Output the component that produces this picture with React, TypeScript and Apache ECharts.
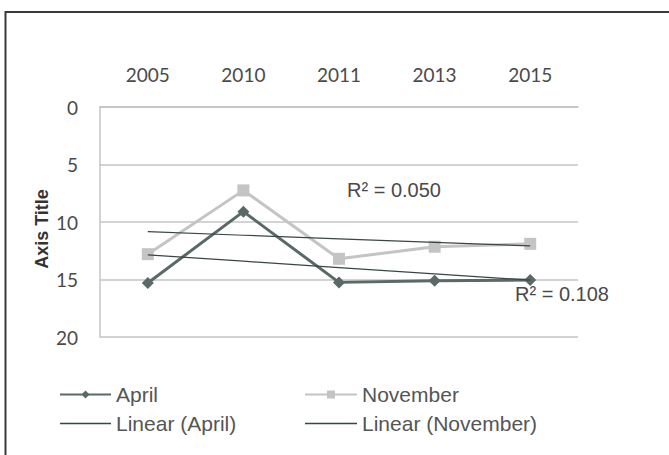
import React, { useEffect, useRef } from "react";
import * as echarts from "echarts";

const categories = ["2005", "2010", "2011", "2013", "2015"];
const aprilValues = [15.3, 9.1, 15.25, 15.1, 15.05];
const novemberValues = [12.8, 7.25, 13.2, 12.15, 11.9];
const yTicks = [0, 5, 10, 15, 20];
const r2Labels = ["R² = 0.050", "R² = 0.108"];
const yAxisTitle = "Axis Title";

function linearTrend(vals: number[]): number[] {
  const n = vals.length;
  const xs = vals.map((_, i) => i + 1);
  const mx = xs.reduce((a, b) => a + b, 0) / n;
  const my = vals.reduce((a, b) => a + b, 0) / n;
  let sxy = 0;
  let sxx = 0;
  for (let i = 0; i < n; i++) {
    sxy += (xs[i] - mx) * (vals[i] - my);
    sxx += (xs[i] - mx) * (xs[i] - mx);
  }
  const slope = sxy / sxx;
  const b = my - slope * mx;
  return xs.map((x) => +(b + slope * x).toFixed(3));
}

const TREND_COLOR = "#3a4646";
const lineIcon = "path://M0,0 L52,0 L52,1.3 L0,1.3 Z";

export default function App() {
  const ref = useRef<HTMLDivElement>(null);
  useEffect(() => {
    if (!ref.current) return;
    const chart = echarts.init(ref.current, undefined, { renderer: "svg" });
    const aprilTrend = linearTrend(aprilValues);
    const novTrend = linearTrend(novemberValues);
    const legendText = {
      fontFamily: "Liberation Sans, Arial, sans-serif",
      fontSize: 21,
      color: "#555555",
      lineHeight: 20,
    };
    chart.setOption({
      animation: false,
      backgroundColor: "#ffffff",
      grid: { left: 100, right: 91, top: 107, bottom: 118 },
      xAxis: {
        type: "category",
        data: categories,
        position: "top",
        boundaryGap: true,
        axisLine: { show: true, lineStyle: { color: "#c4c4c4", width: 1.5 } },
        axisTick: { show: false },
        axisLabel: {
          margin: 23,
          fontFamily: "Lato, 'Open Sans', sans-serif",
          fontSize: 19,
          color: "#4a4a4a",
        },
      },
      yAxis: {
        type: "value",
        inverse: true,
        min: yTicks[0],
        max: yTicks[yTicks.length - 1],
        interval: 5,
        axisLine: { show: true, lineStyle: { color: "#c4c4c4", width: 1.5 } },
        axisTick: { show: false },
        splitLine: { show: true, lineStyle: { color: "#c4c4c4", width: 1.5 } },
        axisLabel: {
          margin: 22,
          fontFamily: "Lato, 'Open Sans', sans-serif",
          fontSize: 19,
          color: "#4a4a4a",
        },
      },
      legend: [
        {
          orient: "vertical",
          left: 59,
          top: 384,
          padding: 0,
          itemWidth: 51,
          itemHeight: 10,
          itemGap: 8,
          textStyle: legendText,
          data: [
            "April",
            { name: "Linear (April)", icon: lineIcon, itemStyle: { color: TREND_COLOR } },
          ],
        },
        {
          orient: "vertical",
          left: 304,
          top: 384,
          padding: 0,
          itemWidth: 52,
          itemHeight: 10,
          itemGap: 8,
          textStyle: legendText,
          data: [
            "November",
            { name: "Linear (November)", icon: lineIcon, itemStyle: { color: TREND_COLOR } },
          ],
        },
      ],
      graphic: [
        {
          type: "rect",
          shape: { x: 5.5, y: 12, width: 700, height: 500 },
          style: { fill: "none", stroke: "#3a3a3a", lineWidth: 2 },
          silent: true,
          z: 100,
        },
        {
          type: "text",
          x: 42,
          y: 229,
          rotation: Math.PI / 2,
          style: {
            text: yAxisTitle,
            fontFamily: "Liberation Sans, Arial, sans-serif",
            fontWeight: "bold",
            fontSize: 18,
            fill: "#333333",
            align: "center",
            verticalAlign: "middle",
          },
        },
        {
          type: "text",
          x: 347,
          y: 190,
          style: {
            text: r2Labels[0],
            fontFamily: "Liberation Sans, Arial, sans-serif",
            fontSize: 20,
            fill: "#4a4a4a",
            verticalAlign: "middle",
          },
        },
        {
          type: "text",
          x: 515,
          y: 294,
          style: {
            text: r2Labels[1],
            fontFamily: "Liberation Sans, Arial, sans-serif",
            fontSize: 20,
            fill: "#4a4a4a",
            verticalAlign: "middle",
          },
        },
      ],
      series: [
        {
          name: "April",
          type: "line",
          data: aprilValues,
          symbol: "diamond",
          symbolSize: 12,
          itemStyle: { color: "#5b6868" },
          lineStyle: { color: "#5b6868", width: 3 },
          z: 3,
        },
        {
          name: "November",
          type: "line",
          data: novemberValues,
          symbol: "rect",
          symbolSize: 12,
          itemStyle: { color: "#c4c4c4" },
          lineStyle: { color: "#c4c4c4", width: 3 },
          z: 2,
        },
        {
          name: "Linear (April)",
          type: "line",
          data: aprilTrend,
          symbol: "none",
          itemStyle: { color: TREND_COLOR },
          lineStyle: { color: TREND_COLOR, width: 1.2 },
          z: 4,
        },
        {
          name: "Linear (November)",
          type: "line",
          data: novTrend,
          symbol: "none",
          itemStyle: { color: TREND_COLOR },
          lineStyle: { color: TREND_COLOR, width: 1.2 },
          z: 4,
        },
      ],
    });
    return () => chart.dispose();
  }, []);
  return (
    <div
      ref={ref}
      style={{ position: "fixed", left: 0, top: 0, width: 669, height: 455 }}
    />
  );
}
